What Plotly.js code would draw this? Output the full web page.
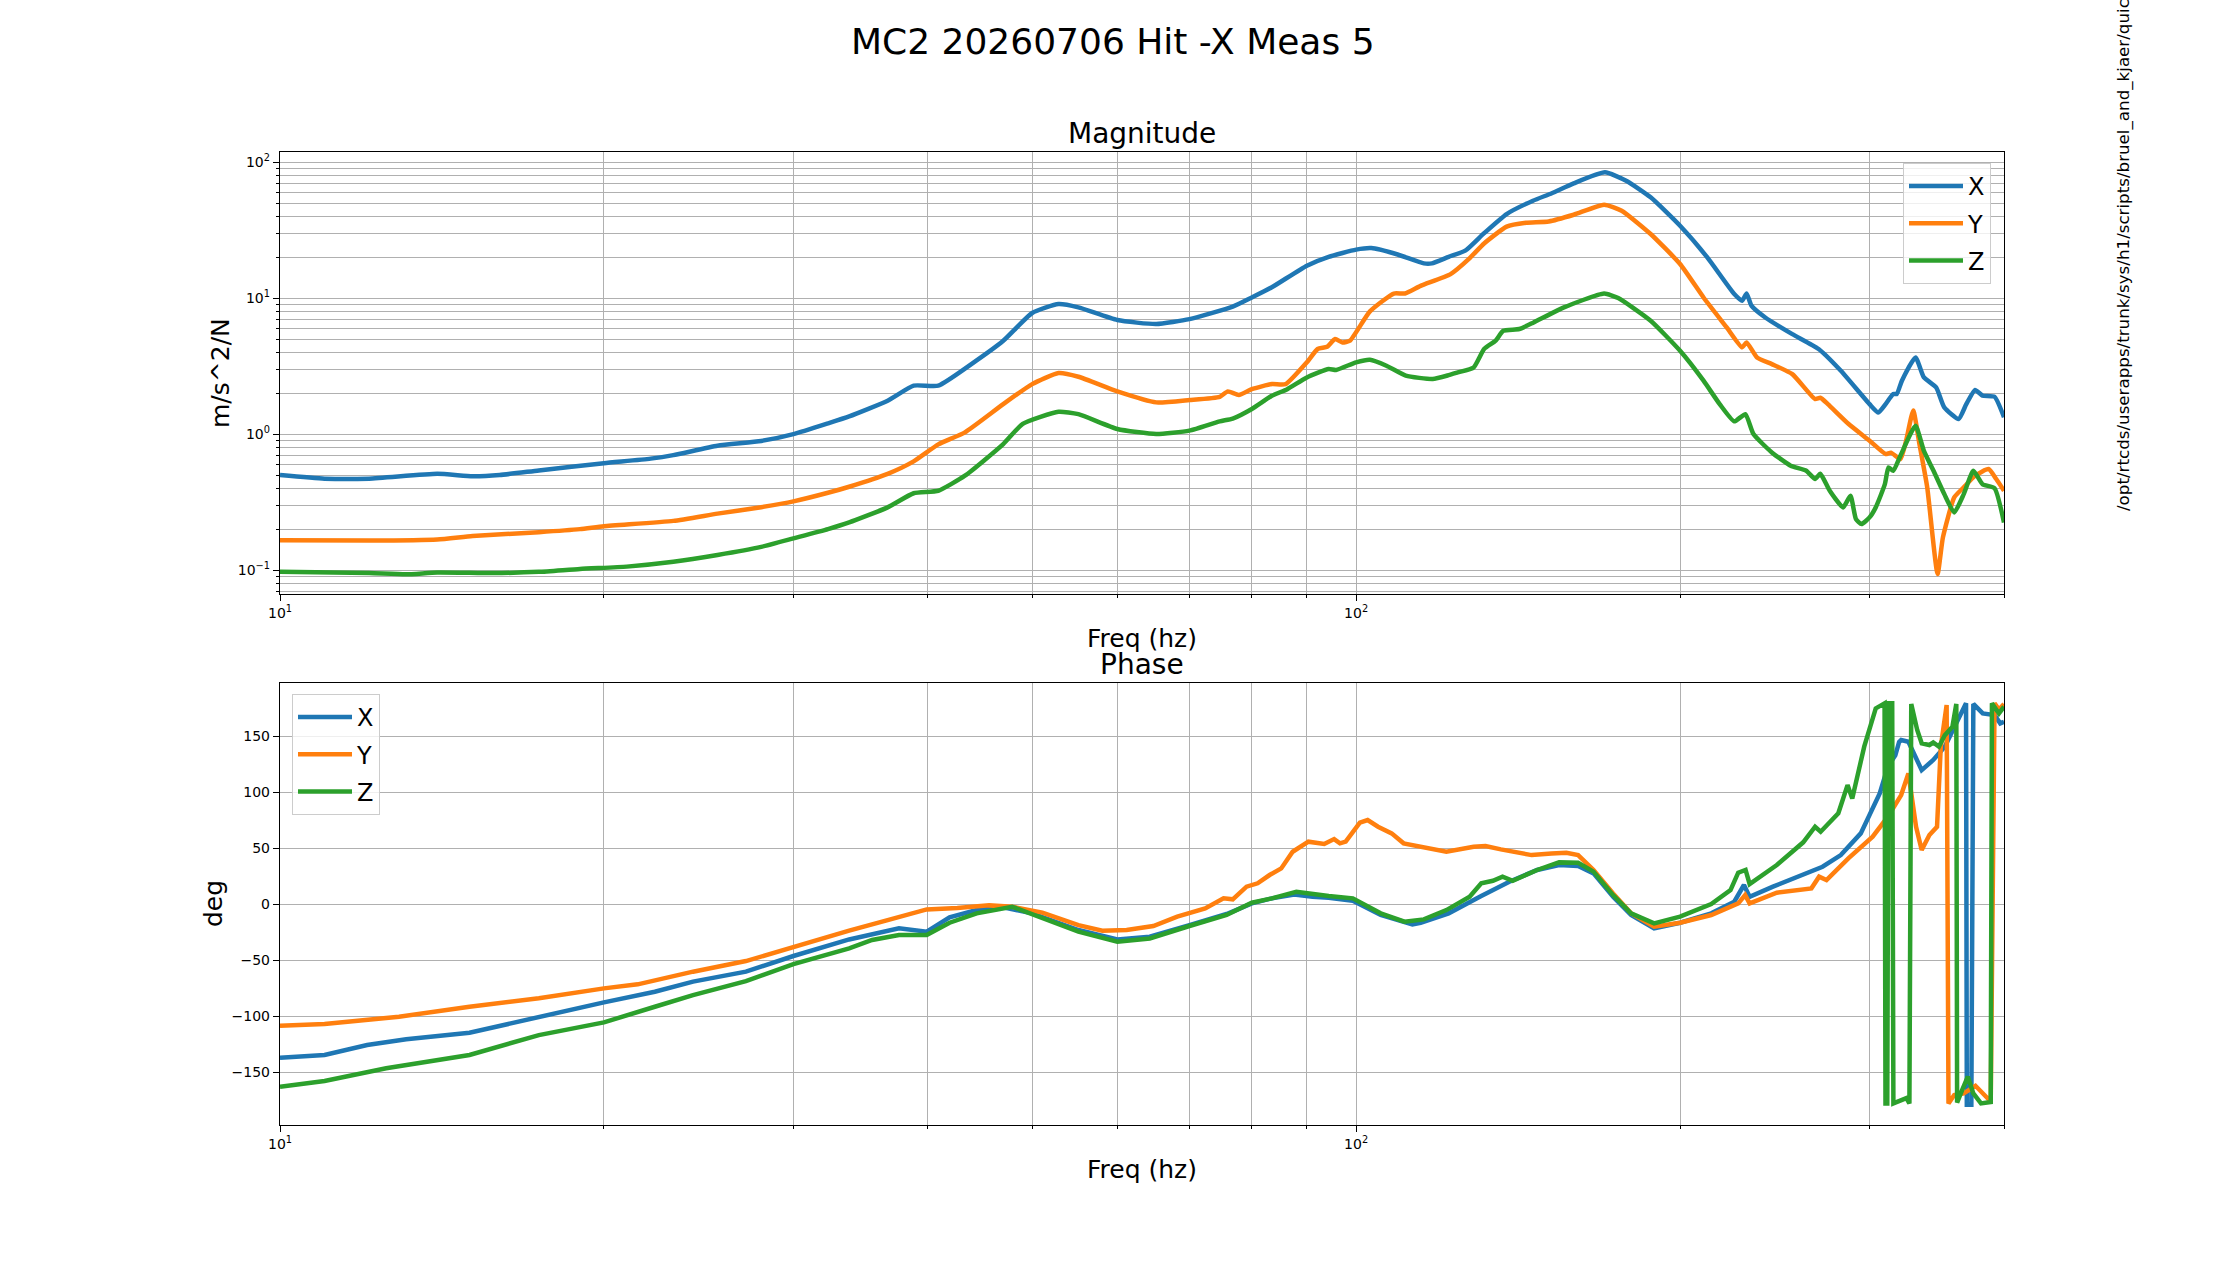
<!DOCTYPE html>
<html>
<head>
<meta charset="utf-8">
<script src="https://cdn.plot.ly/plotly-3.0.1.min.js"></script>
<style>
  html, body { margin: 0; padding: 0; background: #fff; }
  #chart { width: 2226px; height: 1264px; }
</style>
</head>
<body>
<div id="chart"></div>
<script>
// magnitude, m/s^2/N
const magFreqX = [10, 11, 12.1, 14, 15.1, 16, 17.4, 20, 22.1, 23.2, 25.5, 28, 30, 32.3, 33.8, 36.7, 38.8, 40.9, 43.9, 47, 50, 52.9, 55.2, 60, 65.2, 70, 76.8, 80, 83.5, 90, 94.3, 100, 103.3, 109.3, 115.6, 117.6, 121.9, 126.3, 131.5, 138, 146, 152, 159.3, 170.3, 178.2, 187.8, 200, 212, 224.6, 228.4, 230.6, 233, 240, 254.3, 269, 282, 300, 305.7, 310.5, 315.6, 318, 321.5, 331, 337, 346, 352, 363, 369, 376, 382, 392, 400];
const magX = [0.50, 0.47, 0.47, 0.51, 0.49, 0.50, 0.54, 0.61, 0.66, 0.70, 0.82, 0.89, 1.0, 1.2, 1.35, 1.76, 2.27, 2.27, 3.27, 4.85, 7.76, 9.03, 8.54, 6.89, 6.44, 7.0, 8.64, 10.1, 12.0, 17.3, 20.1, 22.7, 23.3, 20.9, 18.0, 18.0, 20.1, 22.3, 30, 41.5, 52, 59, 69.7, 84, 72.9, 55, 34, 19.9, 10.7, 9.55, 10.8, 8.8, 7.2, 5.43, 4.22, 2.93, 1.66, 1.44, 1.66, 1.97, 1.97, 2.47, 3.66, 2.61, 2.2, 1.57, 1.29, 1.66, 2.11, 1.92, 1.88, 1.33];

const magFreqY = [10, 12.1, 14, 15.1, 17.4, 19, 20, 23.2, 25.5, 28, 30, 32.3, 33.8, 36.7, 38.8, 40.9, 43.3, 47, 50, 52.9, 55.2, 60, 65.2, 70, 74.7, 76, 77.8, 80, 83.5, 86, 90, 92.1, 94, 95.6, 97.1, 98.7, 103, 108.4, 111, 114.8, 122.4, 127.3, 131.5, 138, 143.8, 151, 159.3, 170, 176.5, 187.8, 200, 210.3, 221, 228.4, 230.6, 235.8, 243.4, 254.3, 267, 270, 274.4, 286.7, 300, 310.5, 314, 320.5, 324.4, 329.4, 333.8, 339.4, 347, 351, 359.6, 367, 376, 387, 393.4, 400];
const magY = [0.166, 0.165, 0.168, 0.178, 0.19, 0.20, 0.21, 0.23, 0.26, 0.29, 0.32, 0.37, 0.41, 0.51, 0.63, 0.84, 1.03, 1.66, 2.33, 2.81, 2.64, 2.06, 1.71, 1.78, 1.88, 2.06, 1.94, 2.14, 2.33, 2.33, 3.37, 4.22, 4.39, 5.0, 4.72, 4.86, 7.98, 10.8, 10.8, 12.3, 15.0, 19.4, 25.2, 33.5, 35.8, 36.6, 41.0, 48.6, 43.9, 29.6, 17.8, 10.1, 6.08, 4.34, 4.72, 3.66, 3.27, 2.76, 1.81, 1.85, 1.66, 1.19, 0.894, 0.713, 0.73, 0.655, 0.894, 1.49, 0.844, 0.406, 0.0935, 0.174, 0.342, 0.406, 0.494, 0.553, 0.467, 0.383];

const magFreqZ = [10, 12.1, 13.1, 14, 15.8, 17.4, 19, 21, 23.2, 25.5, 28, 30, 32.3, 33.8, 36.7, 38.8, 40.9, 43.3, 47, 49, 52.9, 55.2, 60, 65.2, 70, 74.7, 76.8, 80, 83.5, 86.3, 90, 94.3, 95.8, 100, 103, 106.7, 111.2, 117.8, 121.9, 124.3, 128.6, 131.5, 134.8, 137, 141.8, 146.2, 156, 170, 175.2, 187.8, 200, 210.3, 217.7, 224.6, 230, 234, 243.4, 253.4, 262, 267, 270, 275.5, 283.5, 288, 291.4, 294.9, 300, 304, 310, 312.4, 315.6, 320.5, 331, 337, 344, 352, 359.6, 367, 374.6, 382, 392, 400];
const magZ = [0.097, 0.095, 0.093, 0.096, 0.095, 0.097, 0.102, 0.106, 0.115, 0.129, 0.148, 0.171, 0.20, 0.224, 0.289, 0.367, 0.383, 0.494, 0.844, 1.19, 1.46, 1.40, 1.09, 1.0, 1.06, 1.24, 1.30, 1.53, 1.91, 2.14, 2.61, 3.01, 2.96, 3.37, 3.52, 3.18, 2.69, 2.54, 2.71, 2.84, 3.09, 4.22, 4.86, 5.75, 5.92, 6.62, 8.54, 10.8, 10.0, 6.81, 4.1, 2.47, 1.66, 1.24, 1.40, 1.0, 0.733, 0.585, 0.537, 0.467, 0.51, 0.383, 0.289, 0.352, 0.237, 0.218, 0.244, 0.289, 0.428, 0.569, 0.537, 0.693, 1.15, 0.753, 0.537, 0.362, 0.265, 0.362, 0.537, 0.428, 0.40, 0.224];

// phase, deg
const phaseFreqX = [10, 11, 12.05, 13.1, 15, 17.4, 20, 22.3, 24.2, 27.1, 30, 33.8, 35.5, 37.6, 39.9, 41.9, 44.4, 47, 50, 55.2, 60, 64.3, 70, 75.8, 80, 83.5, 87.6, 91.1, 94.3, 99.3, 105.4, 112.8, 114.8, 121.9, 130.7, 138.8, 147.3, 154.4, 160.8, 166.2, 173.3, 180.1, 189.2, 200, 213.8, 224.6, 229.3, 232.1, 244, 260.3, 271.3, 282.1, 294.4, 306.6, 312, 317, 319.6, 321, 326, 335.4, 343.8, 352.4, 361.2, 368.8, 369.4, 373, 374.6, 382.2, 392, 396.8, 400];
const phaseX = [-136.9, -134.5, -125.6, -120.5, -114.6, -100.3, -87.5, -78, -69, -60.1, -46.1, -31.3, -26.5, -21.4, -24.4, -11.6, -5.1, -2.7, -8, -22.9, -31.3, -28.9, -18.5, -8.6, 0.9, 5.4, 8.9, 6.8, 6, 3.3, -9.5, -17.9, -16.4, -8, 7.4, 20.2, 30.7, 35.1, 34.2, 27.7, 6.8, -9.5, -21.4, -16.4, -8, 2.4, 17.3, 6.8, 15.8, 27.1, 33.6, 44, 63.4, 99.1, 123, 133, 145, 146.7, 145.2, 119.9, 128.9, 140.8, 161.6, 179.5, -179, -179, 179, 170.5, 169, 161.6, 163];

const phaseFreqY = [10, 11, 12.9, 15, 17.4, 20, 21.5, 24.2, 27.1, 30, 33.8, 36.7, 39.9, 42.6, 45.6, 47.9, 51.1, 55.2, 58.1, 61.2, 64.8, 68.2, 72.4, 75.3, 76.8, 79.1, 81, 83.1, 85.2, 87.3, 90.3, 93.4, 95.4, 96.6, 97.8, 100.8, 102.5, 104.8, 107.9, 110.7, 114.8, 121.3, 128.6, 131.9, 136.3, 145.6, 151.9, 156.8, 160.8, 166.2, 173.3, 180.1, 189.2, 200, 213.8, 226.5, 229.9, 232.1, 246, 264.9, 269.3, 273.6, 286.7, 302, 312, 321, 326, 331.4, 335.4, 341, 346.6, 349.4, 353.8, 355.2, 359.6, 367, 376.3, 382.2, 388.8, 392, 395.7, 400];
const phaseY = [-108.3, -106.8, -100.3, -91.4, -83.9, -75, -71.4, -60.1, -50.6, -37.8, -23.5, -14, -4.5, -3.3, -0.9, -2.1, -7.4, -18.5, -23.5, -22.9, -19.3, -11, -3.6, 5.4, 4.5, 15.8, 18.8, 26.2, 32.1, 47, 56, 53.9, 58.3, 54.5, 56, 72.9, 75.3, 69.3, 63.4, 54.5, 51.5, 47, 51.5, 52.1, 49.1, 44, 45.5, 46.1, 44, 30.7, 9.8, -8, -19.9, -16.4, -9.5, 0.9, 8.3, 0.9, 10.4, 14.3, 24.7, 21.7, 41.1, 60.4, 78.3, 97.6, 117, 69.3, 48.5, 61.9, 69.3, 140.8, 178, -177.7, -170.2, -168.8, -162, -168.8, -176, 179.5, 174, 179];

const phaseFreqZ = [10, 11, 12.55, 15, 17.4, 20, 22.3, 24.2, 27.1, 30, 33.8, 35.5, 37.6, 39.9, 41.9, 44.4, 47.9, 50, 55.2, 60, 64.3, 70, 75.8, 80, 83.5, 88, 91.1, 94.3, 99.3, 105.4, 110.9, 115.6, 121.3, 127.5, 130.7, 134, 136.8, 139.8, 147.3, 154.4, 160.8, 166.2, 173.3, 180.1, 189.2, 200, 213.8, 222.8, 226.5, 230.1, 232.1, 246, 260.3, 267, 270.2, 280.6, 286.2, 289.1, 296.6, 304, 309.8, 310.4, 311.6, 312.4, 314.9, 315.7, 324.6, 326.7, 328, 332.2, 335.4, 341, 343.8, 348, 352.4, 358.2, 361.2, 361.8, 365.7, 370.2, 374.6, 380.8, 388.8, 389.8, 395.7, 400];
const phaseZ = [-162.8, -157.7, -146.4, -134.5, -116.7, -105.4, -91.4, -81, -68.5, -53.3, -39.3, -31.8, -27.4, -27.4, -16.4, -8, -2.1, -8.6, -24.4, -33.3, -30.4, -19.3, -9.5, 1.5, 5.4, 11.3, 9.2, 7.4, 5.4, -8, -15.5, -13.4, -5.1, 6.8, 18.8, 21.1, 24.7, 21.1, 30.7, 37.5, 37.2, 29.2, 8.3, -8, -17, -11, 0.3, 12.8, 28.3, 30.7, 18.2, 35.1, 55.4, 69.3, 64.9, 81.3, 106.5, 94.6, 140.8, 175, 179.5, -177.7, -177.7, 179.5, 179.5, -177.7, -173, -177.7, 179, 155.7, 143.8, 142.3, 144.5, 140.8, 151, 158.6, 179, -177, -165.8, -153.9, -168.8, -177.7, -176.5, 179.5, 170.5, 176.5];

const seriesNames = ['X', 'Y', 'Z'];
const seriesColors = ['#1f77b4', '#ff7f0e', '#2ca02c'];

// decade ticks with matplotlib style labels
const freqTickVals = [10, 100];
const freqTickText = ['10<sup>1</sup>', '10<sup>2</sup>'];
const magTickVals = [0.1, 1, 10, 100];
const magTickText = ['10<sup>\u22121</sup>', '10<sup>0</sup>', '10<sup>1</sup>', '10<sup>2</sup>'];

const W = 2226, H = 1264;
const px = x => x / W;
const py = y => 1 - y / H;

const font = 'DejaVu Sans, Verdana, sans-serif';
const gridColor = '#b0b0b0';

// minor positions 2..9 of each decade
function minorLogVals(lo, hi) {
  const out = [];
  for (let d = lo; d < hi; d++) {
    for (let k = 2; k <= 9; k++) out.push(k * Math.pow(10, d));
  }
  return out;
}

const magSets = [[magFreqX, magX], [magFreqY, magY], [magFreqZ, magZ]];
const phaseSets = [[phaseFreqX, phaseX], [phaseFreqY, phaseY], [phaseFreqZ, phaseZ]];

const traces = [];
magSets.forEach(([f, v], i) => traces.push({
  x: f, y: v, type: 'scatter', mode: 'lines', name: seriesNames[i],
  legendgroup: 'm' + i, legend: 'legend',
  line: { color: seriesColors[i], width: 4.5, shape: 'spline', smoothing: 0.5 },
  xaxis: 'x', yaxis: 'y'
}));
phaseSets.forEach(([f, v], i) => traces.push({
  x: f, y: v, type: 'scatter', mode: 'lines', name: seriesNames[i],
  legendgroup: 'p' + i, legend: 'legend2',
  line: { color: seriesColors[i], width: 4.5 },
  xaxis: 'x2', yaxis: 'y2'
}));

const tickStyle = {
  showline: true, mirror: true, linecolor: '#000', linewidth: 1.2,
  ticks: 'outside', ticklen: 6, tickwidth: 1, tickcolor: '#000',
  tickfont: { family: font, size: 14, color: '#000' },
  showgrid: true, gridcolor: gridColor, gridwidth: 1,
  zeroline: false
};

const freqAxis = anchor => Object.assign({
  type: 'log',
  range: [1, Math.log10(400)],
  domain: [px(280), px(2004)],
  anchor,
  tickmode: 'array', tickvals: freqTickVals, ticktext: freqTickText,
  minor: { tickmode: 'array', tickvals: minorLogVals(1, 3), ticks: 'outside', ticklen: 3, tickcolor: '#000', showgrid: true, gridcolor: gridColor, gridwidth: 1 }
}, tickStyle);

const legendStyle = {
  bgcolor: 'rgba(255,255,255,0.8)', bordercolor: '#cccccc', borderwidth: 1,
  font: { family: font, size: 24, color: '#000' },
  tracegroupgap: 3, traceorder: 'grouped', itemwidth: 54
};

const layout = {
  width: W, height: H,
  margin: { l: 0, r: 0, t: 0, b: 0 },
  paper_bgcolor: '#fff', plot_bgcolor: '#fff',
  font: { family: font, color: '#000' },
  showlegend: true,
  xaxis: freqAxis('y'),
  xaxis2: freqAxis('y2'),
  yaxis: Object.assign({
    type: 'log',
    range: [-1.176, 2.074],
    domain: [py(594), py(152)],
    anchor: 'x',
    tickmode: 'array', tickvals: magTickVals, ticktext: magTickText,
    minor: { tickmode: 'array', tickvals: minorLogVals(-2, 2), ticks: 'outside', ticklen: 3, tickcolor: '#000', showgrid: true, gridcolor: gridColor, gridwidth: 1 }
  }, tickStyle),
  yaxis2: Object.assign({
    range: [-197, 197.4],
    domain: [py(1125), py(683.3)],
    anchor: 'x2',
    tick0: 0, dtick: 50
  }, tickStyle),
  legend: Object.assign({ x: px(1991), xanchor: 'right', y: py(163), yanchor: 'top' }, legendStyle),
  legend2: Object.assign({ x: px(292), xanchor: 'left', y: py(694), yanchor: 'top' }, legendStyle),
  annotations: [
    { text: 'MC2 20260706 Hit -X Meas 5', xref: 'paper', yref: 'paper', x: 0.5, y: py(41.6),
      xanchor: 'center', yanchor: 'middle', showarrow: false, font: { family: font, size: 36, color: '#000' } },
    { text: 'Magnitude', xref: 'paper', yref: 'paper', x: px(1142), y: py(133.3),
      xanchor: 'center', yanchor: 'middle', showarrow: false, font: { family: font, size: 28, color: '#000' } },
    { text: 'Phase', xref: 'paper', yref: 'paper', x: px(1142), y: py(664.6),
      xanchor: 'center', yanchor: 'middle', showarrow: false, font: { family: font, size: 28, color: '#000' } },
    { text: 'Freq (hz)', xref: 'paper', yref: 'paper', x: px(1142), y: py(638),
      xanchor: 'center', yanchor: 'middle', showarrow: false, font: { family: font, size: 25, color: '#000' } },
    { text: 'Freq (hz)', xref: 'paper', yref: 'paper', x: px(1142), y: py(1169),
      xanchor: 'center', yanchor: 'middle', showarrow: false, font: { family: font, size: 25, color: '#000' } },
    { text: 'm/s^2/N', xref: 'paper', yref: 'paper', x: px(220), y: py(373), textangle: -90,
      xanchor: 'center', yanchor: 'middle', showarrow: false, font: { family: font, size: 25, color: '#000' } },
    { text: 'deg', xref: 'paper', yref: 'paper', x: px(213), y: py(904), textangle: -90,
      xanchor: 'center', yanchor: 'middle', showarrow: false, font: { family: font, size: 25, color: '#000' } },
    { text: '/opt/rtcds/userapps/trunk/sys/h1/scripts/bruel_and_kjaer/quick_plot.py', xref: 'paper', yref: 'paper',
      x: px(2123), y: py(513), textangle: -90,
      xanchor: 'center', yanchor: 'bottom', showarrow: false, font: { family: font, size: 16.7, color: '#000' } }
  ]
};

Plotly.newPlot('chart', traces, layout, { displayModeBar: false, staticPlot: true });
</script>
</body>
</html>
